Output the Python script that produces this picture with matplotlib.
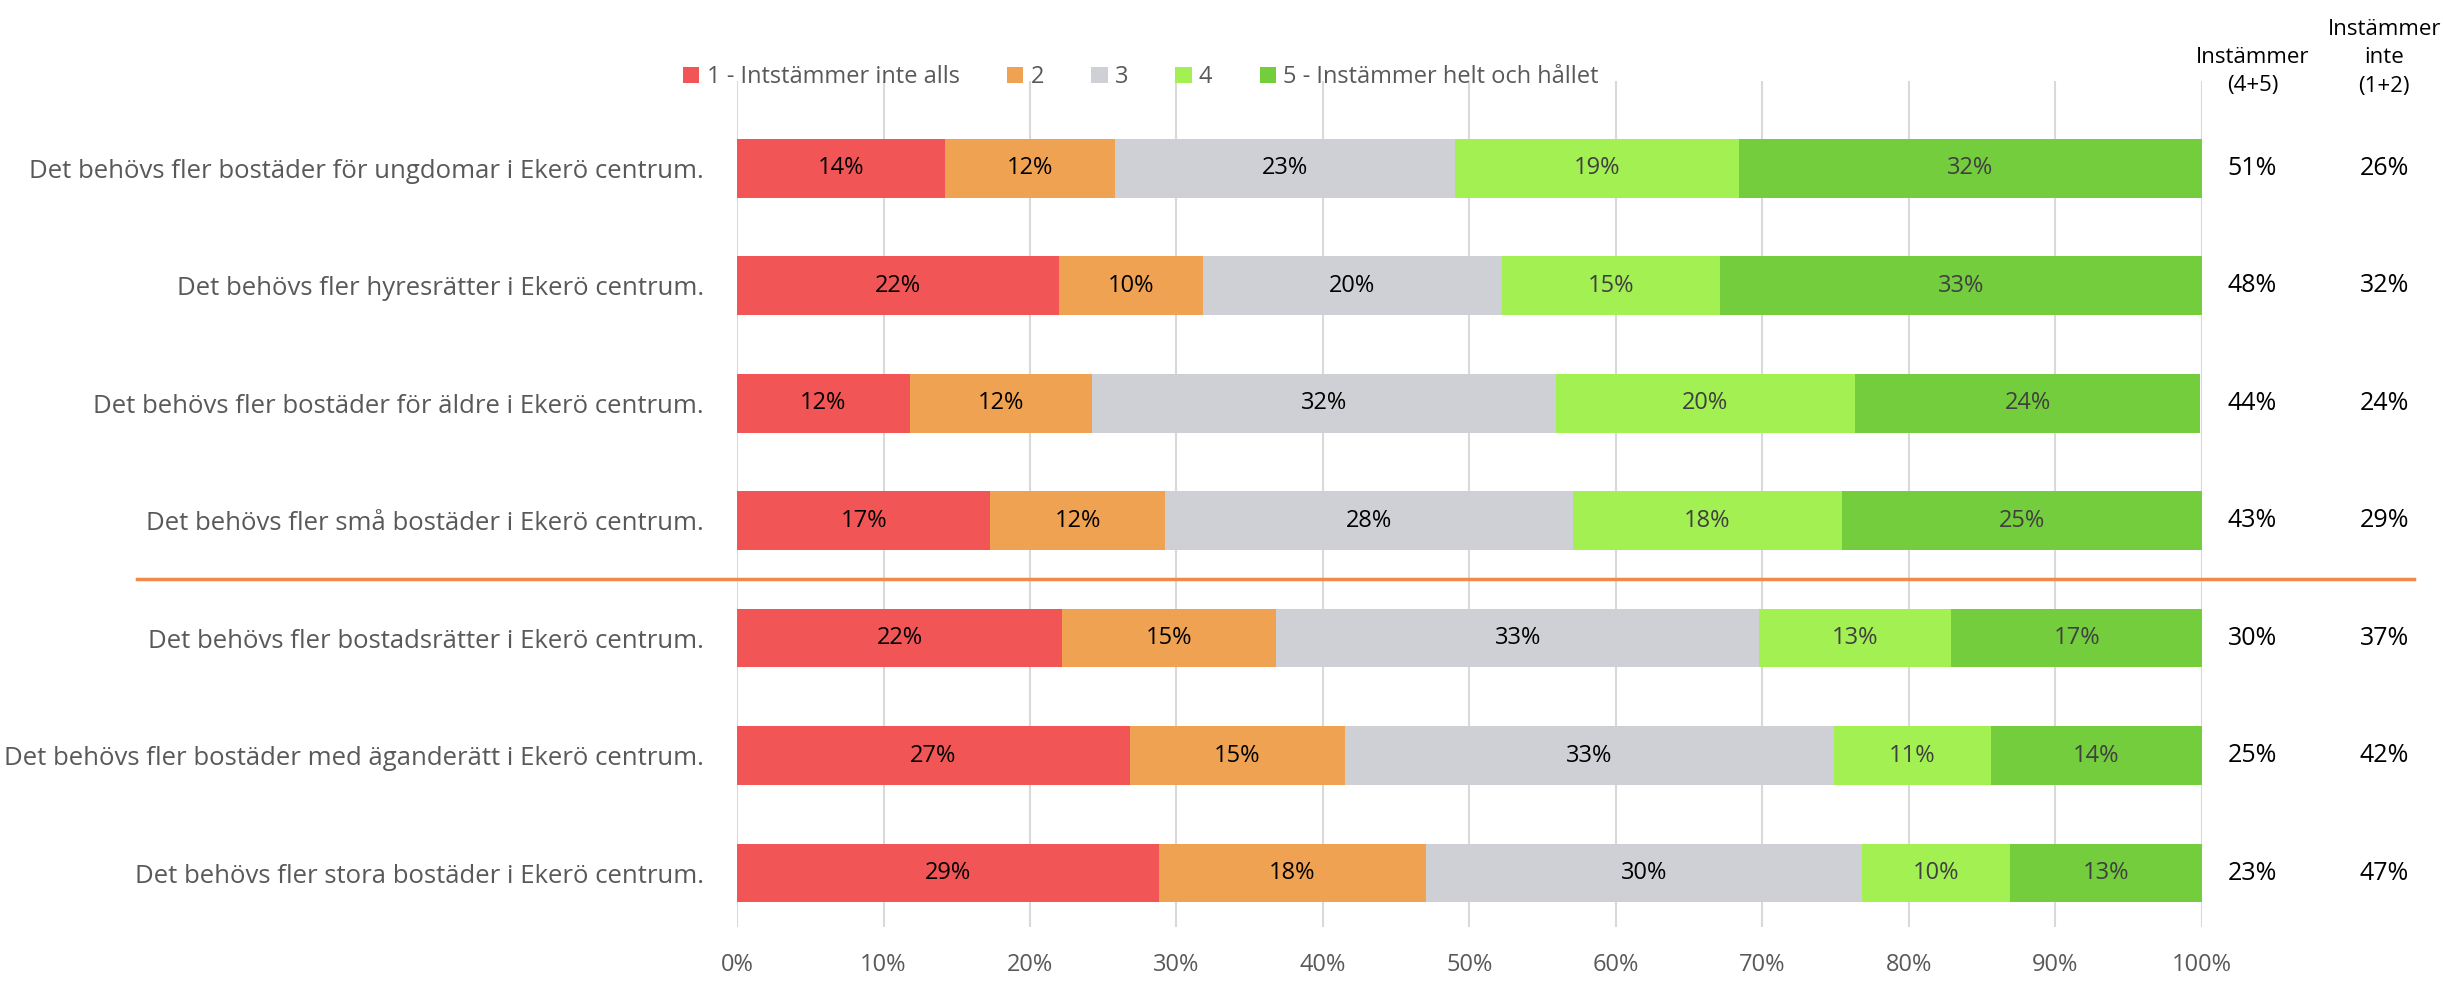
import matplotlib
matplotlib.use('Agg')
import matplotlib.pyplot as plt
import matplotlib.transforms as mtransforms
from matplotlib.patches import Patch
import numpy as np

plt.rcParams['font.family'] = ['Open Sans', 'DejaVu Sans']

# Data
statements = [
    'Det behövs fler bostäder för ungdomar i Ekerö centrum.',
    'Det behövs fler hyresrätter i Ekerö centrum.',
    'Det behövs fler bostäder för äldre i Ekerö centrum.',
    'Det behövs fler små bostäder i Ekerö centrum.',
    'Det behövs fler bostadsrätter i Ekerö centrum.',
    'Det behövs fler bostäder med äganderätt i Ekerö centrum.',
    'Det behövs fler stora bostäder i Ekerö centrum.',
]
series_names = ['1 - Intstämmer inte alls', '2', '3', '4', '5 - Instämmer helt och hållet']
s1 = [14.2, 22.0, 11.8, 17.3, 22.2, 26.8, 28.8]
s2 = [11.6, 9.8, 12.4, 11.9, 14.6, 14.7, 18.2]
s3 = [23.2, 20.4, 31.7, 27.9, 33.0, 33.4, 29.8]
s4 = [19.4, 14.9, 20.4, 18.3, 13.1, 10.7, 10.1]
s5 = [31.6, 32.9, 23.6, 24.6, 17.1, 14.4, 13.1]
agree = [51, 48, 44, 43, 30, 25, 23]
disagree = [26, 32, 24, 29, 37, 42, 47]

colors = ['#F25555', '#F0A253', '#CFD0D5', '#A3F053', '#74CD3C']
label_colors = ['#000000', '#000000', '#000000', '#404040', '#404040']

fig = plt.figure(figsize=(24.43, 9.81), dpi=100)
ax = fig.add_axes([0.3017, 0.055, 0.5996, 0.862])

y = np.arange(len(statements))
left = np.zeros(len(statements))
for vals, col, lc, name in zip([s1, s2, s3, s4, s5], colors, label_colors, series_names):
    vals = np.array(vals)
    ax.barh(y, vals, left=left, height=0.5, color=col, label=name, zorder=3)
    for yi, l, v in zip(y, left, vals):
        ax.text(l + v / 2, yi, f'{v:.0f}%', ha='center', va='center',
                fontsize=17, color=lc, zorder=4)
    left += vals

ax.set_xlim(0, 100)
ax.set_ylim(6.46, -0.74)
ax.set_xticks(np.arange(0, 101, 10))
ax.set_xticklabels([f'{t}%' for t in range(0, 101, 10)])
ax.set_yticks(y)
ax.set_yticklabels(statements)
ax.tick_params(axis='x', length=0, pad=19, labelsize=17, labelcolor='#595959')
ax.tick_params(axis='y', length=0, pad=24, labelsize=18.5, labelcolor='#595959')
ax.grid(axis='x', color='#D9D9D9', linewidth=1.5, zorder=0)
for sp in ax.spines.values():
    sp.set_visible(False)

# separator line between group 1 and 2
trans = mtransforms.blended_transform_factory(fig.transFigure, ax.transData)
ax.plot([0.056, 0.988], [3.5, 3.5], transform=trans, color='#F08A4B',
        linewidth=2.5, clip_on=False, zorder=5)

# right columns
for yi, a, d in zip(y, agree, disagree):
    ax.text(0.922, yi, f'{a}%', transform=trans, ha='center', va='center',
            fontsize=18, color='#000000')
    ax.text(0.976, yi, f'{d}%', transform=trans, ha='center', va='center',
            fontsize=18, color='#000000')
fig.text(0.922, 0.927, 'Instämmer\n(4+5)', ha='center', va='center',
         fontsize=16, color='#000000', linespacing=1.45)
fig.text(0.976, 0.941, 'Instämmer\ninte\n(1+2)', ha='center', va='center',
         fontsize=16, color='#000000', linespacing=1.45)

handles = [Patch(facecolor=c) for c in colors]
fig.legend(handles, series_names, loc='center', bbox_to_anchor=(0.467, 0.921),
           ncol=5, frameon=False, fontsize=17, handlelength=0.7, handleheight=0.7,
           handletextpad=0.3, columnspacing=2.0, labelcolor='#595959')

fig.savefig('out.png', dpi=100)
